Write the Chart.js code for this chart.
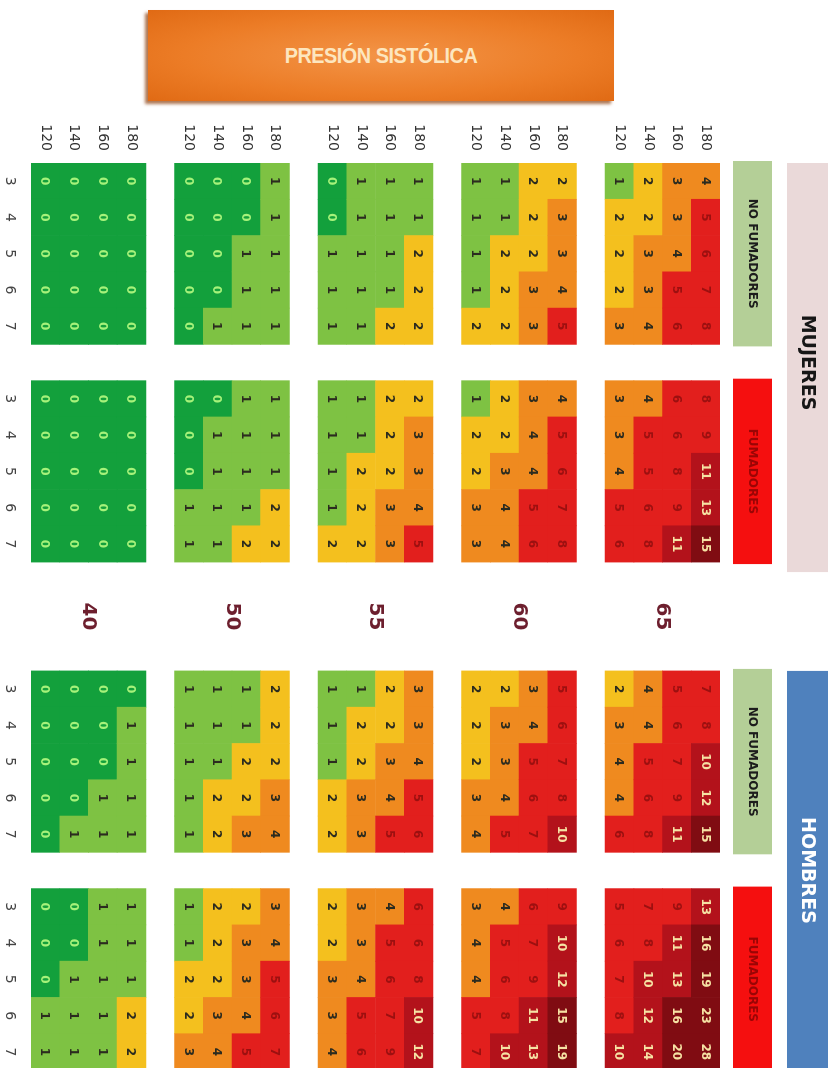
<!DOCTYPE html>
<html>
<head>
<meta charset="utf-8">
<title>Tabla SCORE</title>
<script src="https://cdn.jsdelivr.net/npm/chart.js@4.4.1/dist/chart.umd.min.js"></script>
<style>
  html, body { margin: 0; padding: 0; background: #fff; width: 837px; height: 1068px; overflow: hidden; }
  #titulo {
    position: absolute; left: 148px; top: 10px; width: 466px; height: 91px;
    background: radial-gradient(ellipse at 50% 50%, #f39447 0%, #ec7c26 60%, #e06a14 100%);
    box-shadow: -3px 3px 3px rgba(140, 60, 10, .7);
    color: #fde6bf; font: bold 22px "Liberation Sans", sans-serif;
    display: flex; align-items: center; justify-content: center;
  }
  #titulo span { display: inline-block; transform: scaleX(0.9); letter-spacing: -0.5px; }
  /* la tabla se dibuja en horizontal y se gira 90 grados */
  #girado {
    position: absolute; left: 0; top: 0; width: 1090px; height: 837px;
    transform-origin: 0 0; transform: translateX(837px) rotate(90deg);
  }
</style>
</head>
<body>
<div id="titulo"><span>PRESIÓN SISTÓLICA</span></div>
<div id="girado"><canvas id="score" width="1090" height="837"></canvas></div>
<script>
const edades = [40, 50, 55, 60, 65];
const presiones = [120, 140, 160, 180];
const colesterol = [3, 4, 5, 6, 7];

// riesgo por edad; filas = colesterol 3..7, columnas = presión 120..180
const mujeresNoFumadoras = [
  [[0,0,0,0],[0,0,0,0],[0,0,0,0],[0,0,0,0],[0,0,0,0]],
  [[0,0,0,1],[0,0,0,1],[0,0,1,1],[0,0,1,1],[0,1,1,1]],
  [[0,1,1,1],[0,1,1,1],[1,1,1,2],[1,1,1,2],[1,1,2,2]],
  [[1,1,2,2],[1,1,2,3],[1,2,2,3],[1,2,3,4],[2,2,3,5]],
  [[1,2,3,4],[2,2,3,5],[2,3,4,6],[2,3,5,7],[3,4,6,8]],
];
const mujeresFumadoras = [
  [[0,0,0,0],[0,0,0,0],[0,0,0,0],[0,0,0,0],[0,0,0,0]],
  [[0,0,1,1],[0,1,1,1],[0,1,1,1],[1,1,1,2],[1,1,2,2]],
  [[1,1,2,2],[1,1,2,3],[1,2,2,3],[1,2,3,4],[2,2,3,5]],
  [[1,2,3,4],[2,2,4,5],[2,3,4,6],[3,4,5,7],[3,4,6,8]],
  [[3,4,6,8],[3,5,6,9],[4,5,8,11],[5,6,9,13],[6,8,11,15]],
];
const hombresNoFumadores = [
  [[0,0,0,0],[0,0,0,1],[0,0,0,1],[0,0,1,1],[0,1,1,1]],
  [[1,1,1,2],[1,1,1,2],[1,1,2,2],[1,2,2,3],[1,2,3,4]],
  [[1,1,2,3],[1,2,2,3],[1,2,3,4],[2,3,4,5],[2,3,5,6]],
  [[2,2,3,5],[2,3,4,6],[2,3,5,7],[3,4,6,8],[4,5,7,10]],
  [[2,4,5,7],[3,4,6,8],[4,5,7,10],[4,6,9,12],[6,8,11,15]],
];
const hombresFumadores = [
  [[0,0,1,1],[0,0,1,1],[0,1,1,1],[1,1,1,2],[1,1,1,2]],
  [[1,2,2,3],[1,2,3,4],[2,2,3,5],[2,3,4,6],[3,4,5,7]],
  [[2,3,4,6],[2,3,5,6],[3,4,6,8],[3,5,7,10],[4,6,9,12]],
  [[3,4,6,9],[4,5,7,10],[4,6,9,12],[5,8,11,15],[7,10,13,19]],
  [[5,7,9,13],[6,8,11,16],[7,10,13,19],[8,12,16,23],[10,14,20,28]],
];

const paneles = [mujeresNoFumadoras, mujeresFumadoras, hombresNoFumadores, hombresFumadores];
const rotulosPanel = ['NO FUMADORES', 'FUMADORES', 'NO FUMADORES', 'FUMADORES'];

// columnas del eje x: 4 paneles de colesterol, con huecos entre ellos
const huecos = [1, 3, 1];
const columnas = [];
paneles.forEach((p, pi) => {
  colesterol.forEach((c, k) => columnas.push({ panel: pi, k }));
  for (let g = 0; g < (huecos[pi] || 0); g++) columnas.push(null);
});
const etiquetasX = columnas.map(c => c ? String(colesterol[c.k]) : '');

// filas del eje y: de 65 años / 180 arriba a 40 años / 120 abajo
const filas = [];
let r = 0;
edades.slice().reverse().forEach((edad, bi) => {
  presiones.slice().reverse().forEach(p => {
    filas.push({ fila: r, edad: edades.indexOf(edad), pres: presiones.indexOf(p) });
    r++;
  });
  if (bi < edades.length - 1) r++;
});
const totalFilas = r;

function colorFondo(v) {
  if (v === 0) return '#13a03c';
  if (v === 1) return '#7ec243';
  if (v === 2) return '#f4c01e';
  if (v <= 4) return '#ef8a1f';
  if (v <= 9) return '#e21f1d';
  if (v <= 14) return '#b3121b';
  return '#800c12';
}
function colorTexto(v) {
  if (v === 0) return '#a6f27a';
  if (v <= 4) return '#2b2b1f';
  if (v <= 9) return '#9c1010';
  return '#f6e2a4';
}

const datasets = filas.map(f => {
  const valores = columnas.map(c => c ? paneles[c.panel][f.edad][c.k][f.pres] : null);
  return {
    data: columnas.map(c => c ? [f.fila, f.fila + 1] : null),
    valores,
    backgroundColor: valores.map(v => v === null ? 'transparent' : colorFondo(v)),
    borderWidth: 0,
    grouped: false,
    barPercentage: 1,
    categoryPercentage: 1,
  };
});

const etiquetaFila = {};
filas.forEach(f => { etiquetaFila[f.fila + 0.5] = presiones[f.pres]; });

const rotulos = {
  id: 'rotulos',
  beforeDatasetsDraw(chart) {
    const ctx = chart.ctx;
    const x = chart.scales.x;
    const medio = (x.getPixelForValue(1) - x.getPixelForValue(0)) / 2;
    const extremo = pi => {
      const idx = columnas.map((c, i) => c && c.panel === pi ? i : -1).filter(i => i >= 0);
      return [x.getPixelForValue(idx[0]) - medio, x.getPixelForValue(idx[idx.length - 1]) + medio];
    };
    ctx.save();
    ctx.textAlign = 'center';
    ctx.textBaseline = 'middle';
    // cajas de fumadores / no fumadores
    paneles.forEach((p, pi) => {
      const [a, b] = extremo(pi);
      const fuma = pi % 2 === 1;
      ctx.fillStyle = fuma ? '#f50f0f' : '#b4cf97';
      ctx.fillRect(a - 2, 65, b - a + 4, 39);
      ctx.fillStyle = fuma ? '#9a0505' : '#1c1c1c';
      ctx.font = 'bold 12px "DejaVu Sans", sans-serif';
      ctx.fillText(rotulosPanel[pi], (a + b) / 2, 85);
    });
    // cajas de sexo
    const grupos = [
      { paneles: [0, 1], texto: 'MUJERES', fondo: '#ead9d9', color: '#161616' },
      { paneles: [2, 3], texto: 'HOMBRES', fondo: '#4f81bd', color: '#ffffff' },
    ];
    grupos.forEach(g => {
      const a = extremo(g.paneles[0])[0];
      const b = extremo(g.paneles[1])[1];
      ctx.fillStyle = g.fondo;
      ctx.fillRect(a, 9, b - a + 10, 41);
      ctx.fillStyle = g.color;
      ctx.font = 'bold 19px "DejaVu Sans", sans-serif';
      ctx.fillText(g.texto, (a + b) / 2, 30);
    });
    ctx.restore();
  },
  afterDatasetsDraw(chart) {
    const ctx = chart.ctx;
    ctx.save();
    ctx.textAlign = 'center';
    ctx.textBaseline = 'middle';
    ctx.font = 'bold 12px "DejaVu Sans", sans-serif';
    chart.data.datasets.forEach((ds, i) => {
      chart.getDatasetMeta(i).data.forEach((bar, j) => {
        const v = ds.valores[j];
        if (v === null) return;
        const p = bar.getProps(['x', 'y', 'base'], true);
        ctx.fillStyle = colorTexto(v);
        ctx.fillText(String(v), p.x, (p.y + p.base) / 2 + 1);
      });
    });
    // edades en el hueco central
    const x = chart.scales.x;
    const y = chart.scales.y;
    const centro = x.getPixelForValue(columnas.findIndex(c => c && c.panel === 2) - 2);
    ctx.font = 'bold 20px "DejaVu Sans", sans-serif';
    ctx.fillStyle = '#6d1f2e';
    edades.forEach(edad => {
      const fs = filas.filter(f => edades[f.edad] === edad);
      const yc = y.getPixelForValue((fs[0].fila + fs[fs.length - 1].fila + 1) / 2);
      ctx.fillText(String(edad), centro, yc);
    });
    ctx.restore();
  }
};

new Chart(document.getElementById('score'), {
  type: 'bar',
  data: { labels: etiquetasX, datasets },
  options: {
    responsive: false,
    animation: false,
    layout: { padding: { left: 113, top: 117, right: 20, bottom: 0 } },
    plugins: { legend: { display: false }, tooltip: { enabled: false } },
    scales: {
      x: {
        position: 'bottom',
        grid: { display: false, drawTicks: false },
        border: { display: false },
        ticks: { autoSkip: false, maxRotation: 0, padding: 13, color: '#444', font: { size: 14, family: '"DejaVu Sans", sans-serif' } },
        afterFit: s => { s.height = 31; },
      },
      y: {
        type: 'linear',
        min: 0,
        max: totalFilas,
        reverse: true,
        grid: { display: false, drawTicks: false },
        border: { display: false },
        afterBuildTicks: s => { s.ticks = filas.map(f => ({ value: f.fila + 0.5 })); },
        ticks: {
          autoSkip: false,
          padding: 12,
          color: '#333',
          font: { size: 14, family: '"DejaVu Sans", sans-serif' },
          callback: v => etiquetaFila[v],
        },
        afterFit: s => { s.width = 50; },
      },
    },
  },
  plugins: [rotulos],
});
</script>
</body>
</html>
